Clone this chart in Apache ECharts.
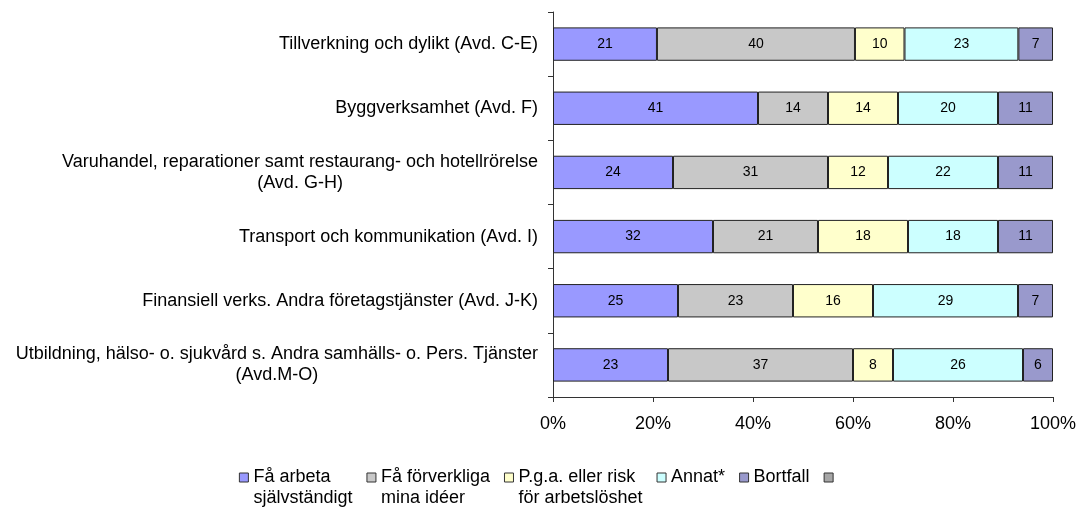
<!DOCTYPE html>
<html>
<head>
<meta charset="utf-8">
<script src="https://cdn.jsdelivr.net/npm/echarts@6/dist/echarts.min.js"></script>
<style>
  html, body { margin: 0; padding: 0; background: #fff; }
  #chart { width: 1082px; height: 511px; }
</style>
</head>
<body>
<div id="chart"></div>
<script>
// branscher (uppifrån och ned)
const categories = [
    'Tillverkning och dylikt (Avd. C-E)',
    'Byggverksamhet (Avd. F)',
    'Varuhandel, reparationer samt restaurang- och hotellrörelse\n(Avd. G-H)',
    'Transport och kommunikation (Avd. I)',
    'Finansiell verks. Andra företagstjänster (Avd. J-K)',
    'Utbildning, hälso- o. sjukvård s. Andra samhälls- o. Pers. Tjänster\n(Avd.M-O)'
];

const seriesNames = [
    'Få arbeta\nsjälvständigt',
    'Få förverkliga\nmina idéer',
    'P.g.a. eller risk\nför arbetslöshet',
    'Annat*',
    'Bortfall'
];

// procent, som de står i staplarna
const faArbeta      = [21, 41, 24, 32, 25, 23];
const faForverkliga = [40, 14, 31, 21, 23, 37];
const pgaRisk       = [10, 14, 12, 18, 16, 8];
const annat         = [23, 20, 22, 18, 29, 26];
const bortfall      = [7, 11, 11, 11, 7, 6];

const xTicks = [0, 20, 40, 60, 80, 100];

const colors = ['#9999FF', '#C8C8C8', '#FFFFCC', '#CCFFFF', '#9999CC'];
const font = 'Liberation Sans, Arial, sans-serif';

const allValues = [faArbeta, faForverkliga, pgaRisk, annat, bortfall];
const totals = categories.map((c, i) => allValues.reduce((s, arr) => s + arr[i], 0));

const LH = 21;

const series = allValues.map((arr, k) => ({
    name: seriesNames[k],
    type: 'bar',
    stack: 'tot',
    barCategoryGap: '48%',
    data: arr.map((v, i) => v / totals[i] * 100),
    itemStyle: { color: colors[k], borderColor: '#222', borderWidth: 1 },
    label: {
        show: true,
        position: 'inside',
        color: '#000',
        fontFamily: font,
        fontSize: 14,
        formatter: p => arr[p.dataIndex]
    },
    emphasis: { disabled: true }
}));
// tom post som syns i förklaringen
series.push({
    name: ' ',
    type: 'bar',
    stack: 'tot',
    data: [],
    itemStyle: { color: '#A6A6A6', borderColor: '#000', borderWidth: 1 }
});

const legendData = seriesNames.concat([' ']);

const myChart = echarts.init(document.getElementById('chart'));
myChart.setOption({
    backgroundColor: '#fff',
    animation: false,
    grid: { left: 553, right: 29, top: 12, bottom: 114, containLabel: false },
    legend: {
        data: legendData,
        left: 'center',
        top: 446,
        padding: 0,
        icon: 'rect',
        itemWidth: 9,
        itemHeight: 9,
        itemGap: 14,
        itemStyle: { borderColor: '#333', borderWidth: 1 },
        // tom rad först så att första textraden hamnar i höjd med rutan
        formatter: n => (n.indexOf('\n') >= 0 ? '\n' + n : n),
        textStyle: { fontFamily: font, fontSize: 18, color: '#000', lineHeight: LH }
    },
    xAxis: {
        type: 'value',
        min: 0,
        max: 100,
        interval: 20,
        axisLine: { show: true, lineStyle: { color: '#333', width: 1 } },
        axisTick: { show: true, length: 5, lineStyle: { color: '#333' } },
        splitLine: { show: false },
        axisLabel: {
            color: '#000',
            fontFamily: font,
            fontSize: 18,
            margin: 18,
            formatter: v => (xTicks.indexOf(v) >= 0 ? v + '%' : '')
        }
    },
    yAxis: {
        type: 'category',
        inverse: true,
        data: categories,
        axisLine: { show: true, lineStyle: { color: '#333', width: 1 } },
        axisTick: { show: true, length: 5, lineStyle: { color: '#333' } },
        axisLabel: {
            color: '#000',
            fontFamily: font,
            fontSize: 18,
            lineHeight: LH,
            margin: 15,
            formatter: s => {
                const parts = s.split('\n');
                return parts.length > 1 ? parts[0] + '\n{c|' + parts[1] + '}' : s;
            },
            rich: {
                c: { align: 'center', fontFamily: font, fontSize: 18, lineHeight: LH, color: '#000' }
            }
        }
    },
    series: series
});
</script>
</body>
</html>
